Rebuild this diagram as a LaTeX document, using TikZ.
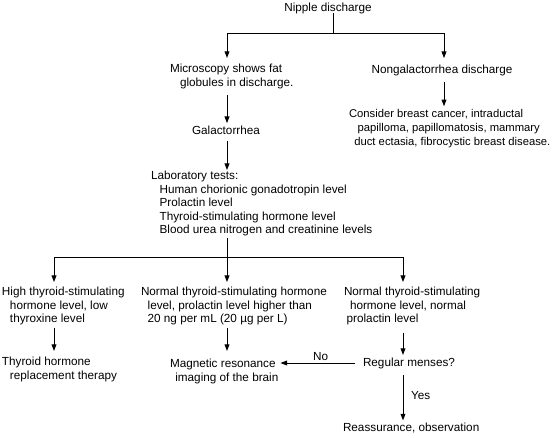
\documentclass[tikz,border=0pt]{standalone}
\usepackage{fontspec}
\setmainfont{Liberation Sans}
\usetikzlibrary{arrows.meta}
\begin{document}
\begin{tikzpicture}[x=0.75pt,y=-0.75pt,
  txt/.style={inner sep=0pt, outer sep=0pt, font=\fontsize{8.8}{10.1}\selectfont, align=left},
  ln/.style={line width=0.75pt},
  arr/.style={ln, -{Triangle[length=5pt,width=3.6pt]}}]
\useasboundingbox (0,0) rectangle (558,437);
% nodes
\node[txt] (nip) at (328,8) {Nipple discharge};
\node[txt, anchor=north west] (mic) at (170,64.4) {Microscopy shows fat\\\hspace*{7.5pt}globules in discharge.};
\node[txt] (non) at (442,70) {Nongalactorrhea discharge};
\node[txt, anchor=north west, font=\fontsize{8.45}{10.4}\selectfont] (con) at (349,109.6) {Consider breast cancer, intraductal\\\hspace*{6.5pt}papilloma, papillomatosis, mammary\\\hspace*{4pt}duct ectasia, fibrocystic breast disease.};
\node[txt] (gal) at (226,130) {Galactorrhea};
\node[txt, anchor=north west] (lab) at (151,171.4) {Laboratory tests:\\\hspace*{6.5pt}Human chorionic gonadotropin level\\\hspace*{6.5pt}Prolactin level\\\hspace*{6.5pt}Thyroid-stimulating hormone level\\\hspace*{6.5pt}Blood urea nitrogen and creatinine levels};
\node[txt, anchor=north west] (hi) at (2,287.4) {High thyroid-stimulating\\\hspace*{6pt}hormone level, low\\\hspace*{6pt}thyroxine level};
\node[txt, anchor=north west] (nm) at (141,287.4) {Normal thyroid-stimulating hormone\\\hspace*{5pt}level, prolactin level higher than\\\hspace*{5pt}20 ng per mL (20 µg per L)};
\node[txt, anchor=north west] (nn) at (344,287.4) {Normal thyroid-stimulating\\\hspace*{4.5pt}hormone level, normal\\\hspace*{2pt}prolactin level};
\node[txt, anchor=north west] (thr) at (2,357.4) {Thyroid hormone\\\hspace*{6pt}replacement therapy};
\node[txt, anchor=north west] (mri) at (170,359.4) {Magnetic resonance\\\hspace*{4pt}imaging of the brain};
\node[txt, anchor=west] (reg) at (363,363) {Regular menses?};
\node[txt, anchor=west] (rea) at (343,428) {Reassurance, observation};
% junctions
\coordinate (ja) at (333,33);
\coordinate (jl) at (227,33);
\coordinate (jr) at (444,33);
\coordinate (jb) at (227,257);
\coordinate (jbl) at (54,257);
\coordinate (jbr) at (403,257);
% connectors
\draw[ln] (nip.south -| ja) -- (ja);
\draw[ln] (jl) -- (jr);
\draw[arr, shorten >=4.8pt] (jl) -- (jl |- mic.north);
\draw[arr, shorten >=4.8pt] (jr) -- (jr |- non.north);
\draw[arr, shorten <=4.9pt, shorten >=1.9pt] (mic.south -| jl) -- (gal.north -| jl);
\draw[arr, shorten <=4.9pt, shorten >=2.5pt] (non.south -| jr) -- (con.north -| jr);
\draw[arr, shorten <=4.9pt, shorten >=1pt] (gal.south -| jl) -- (lab.north -| jl);
\draw[ln, shorten <=1.1pt] (lab.south -| jb) -- (jb);
\draw[ln] (jbl) -- (jbr);
\draw[arr, shorten >=4pt] (jbl) -- (jbl |- hi.north);
\draw[arr, shorten >=4pt] (jb) -- (jb |- nm.north);
\draw[arr, shorten >=4pt] (jbr) -- (jbr |- nn.north);
\draw[arr, shorten <=1.9pt, shorten >=4.8pt] (hi.south -| jbl) -- (thr.north -| jbl);
\draw[arr, shorten <=1.9pt, shorten >=6.3pt] (nm.south -| jb) -- (mri.north -| jb);
\draw[arr, shorten <=5.6pt, shorten >=1.9pt] (nn.south -| jbr) -- (reg.north -| jbr);
\draw[arr, shorten <=6pt, shorten >=1.5pt] (reg.west) -- (reg.west -| mri.east) node[txt, midway, above=2pt] (no) {No};
\draw[arr, shorten <=4.9pt, shorten >=1.9pt] (reg.south -| jbr) -- (rea.north -| jbr) node[txt, midway, right=6pt] (yes) {Yes};
\end{tikzpicture}
\end{document}
